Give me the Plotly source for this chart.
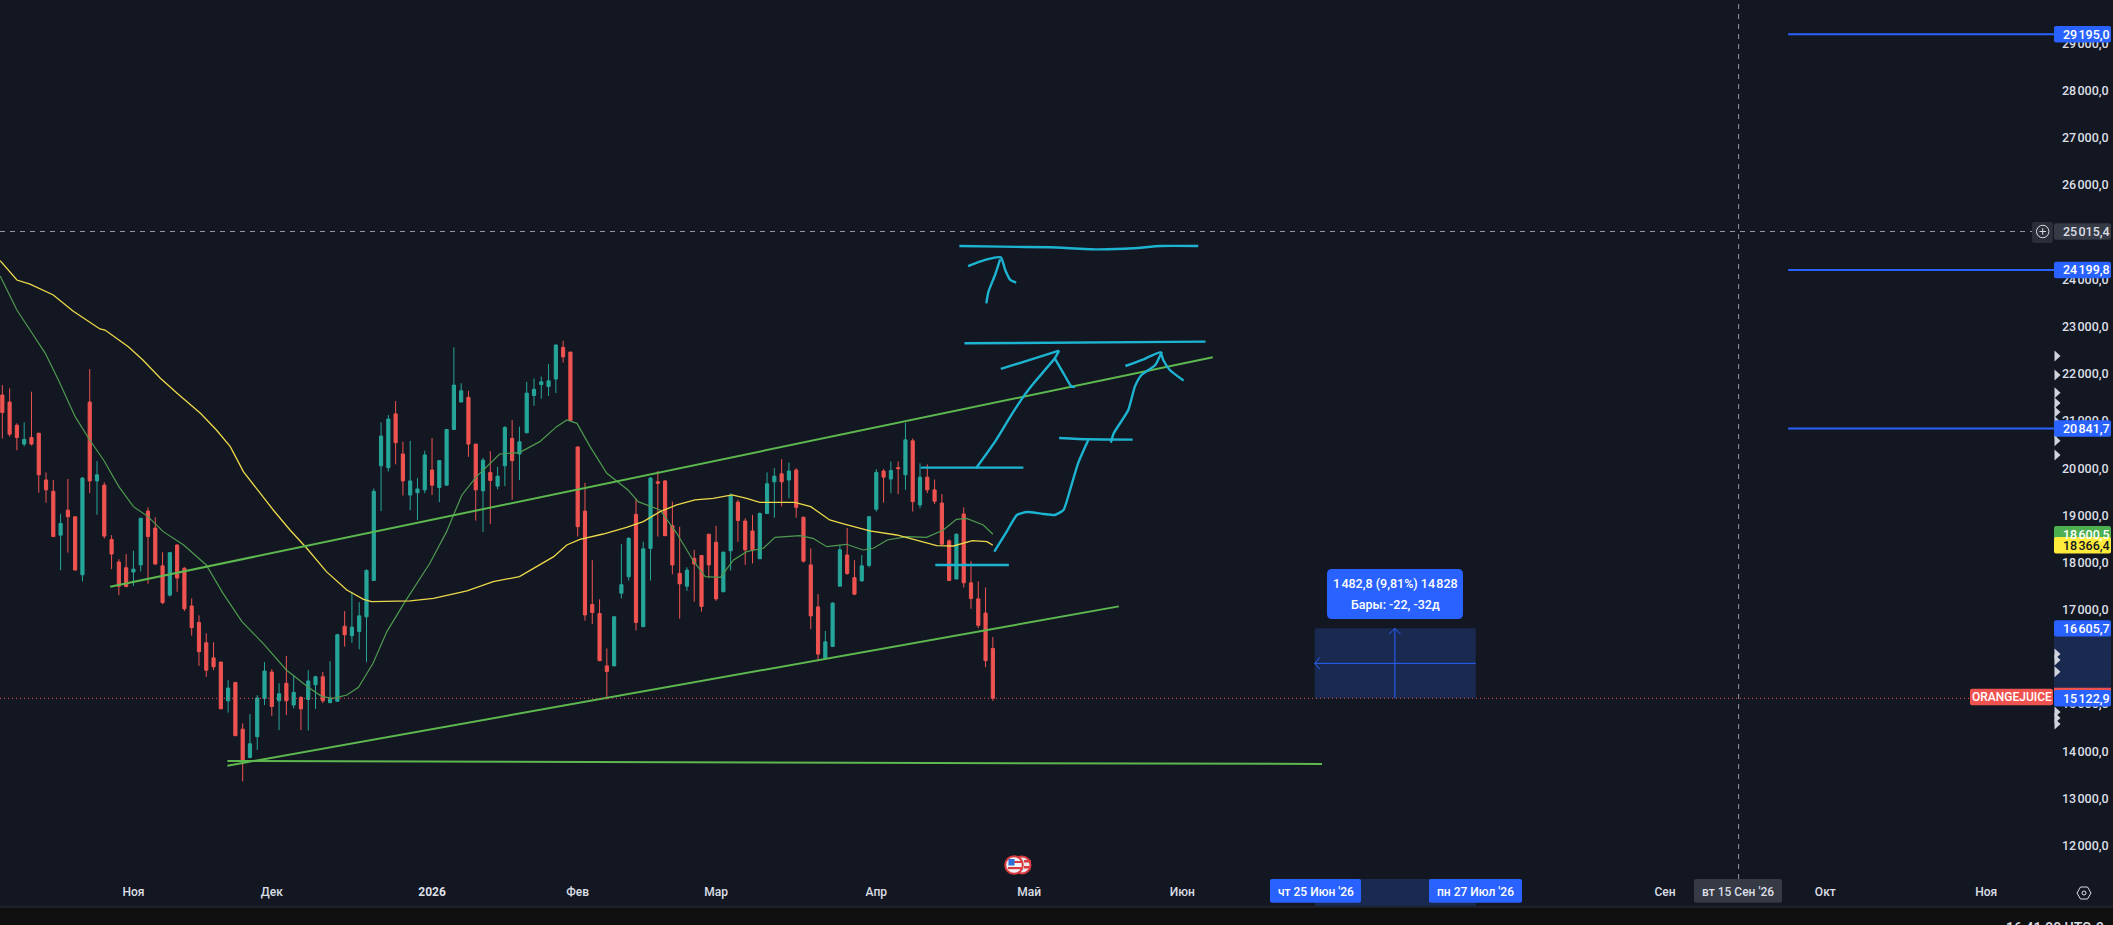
import plotly.graph_objects as go

# ---- candles (price values) ----
opens = [21550,21400,20910,20510,20650,20740,19750,19510,18580,19110,18970,17740,21400,19730,19640,18490,18010,17890,17800,17950,19090,18730,17930,17310,18370,17880,17080,16730,16300,15980,15890,15070,15460,14470,13870,14310,15120,15680,15070,15440,14980,15140,15100,15410,15580,15030,15060,16650,16450,16540,16850,17620,20050,20010,21150,20300,19430,19480,19540,19960,19590,19640,20820,21400,21500,20510,19520,19910,19620,20050,20630,20300,20750,21540,21770,21730,21890,22560,22460,20450,19090,17110,16920,15810,15810,17350,17700,19020,16640,18300,19710,19730,18780,17770,17500,18090,18150,18600,18430,17380,18250,19280,18880,18670,18080,19040,19710,19880,19750,19960,18960,17950,17060,15970,16220,17500,18160,17680,17610,17940,19130,19940,19770,20010,19860,20580,19220,19810,19540,19260,18460,17650,19030,17570,17230,16930,16180]
highs = [21760,21690,20950,20970,21620,20750,19910,19750,19030,19770,18970,19810,22100,20150,19700,18580,18070,18180,18250,18940,19170,18960,18220,18210,18390,17900,17240,16880,16500,16310,15900,15510,15470,14590,14790,15190,15890,15740,15440,16020,15610,15170,15720,15600,15680,15910,16490,16970,17380,17160,17860,19570,20970,21130,21420,20560,20580,19790,20370,20640,20160,20820,22560,21800,21640,20510,20220,20360,20030,20890,21020,20880,21830,21900,21940,22210,22620,22700,22460,20450,19690,18050,17220,16180,16870,18390,18540,19360,18440,19810,19940,19750,19290,18760,17900,18270,18150,18600,18780,18230,19470,19330,18940,19010,19060,19910,20000,20190,20120,20000,18970,18300,17330,16550,17160,18360,18730,18050,18160,18990,19980,19980,20140,20140,20960,20630,20100,20080,19760,19450,18490,18620,19170,18030,17600,17470,16420]
lows = [20630,20670,20380,20460,20480,19480,19270,18550,17840,18210,17840,17600,19470,19010,18510,17860,17310,17480,17500,17810,17550,17950,17120,17280,17380,16970,16450,15810,15580,15720,14900,14820,14330,13360,13850,14030,14980,14750,14450,14770,14910,14450,14440,14900,15020,15030,15050,16220,16300,16160,15890,17620,19090,19930,20080,19420,19110,18900,19470,19430,19280,19640,20820,21400,20240,18890,18650,18820,19550,19620,19330,19750,20740,21320,21470,21530,21590,22240,21010,18550,16770,16700,15920,15100,15810,17240,17620,16560,16640,17620,18550,18560,17750,16810,17400,17170,16960,17670,17190,17380,17830,18440,17950,17980,18080,19040,18950,19190,19360,18950,18000,16590,15910,15970,16220,17500,17740,17310,17600,17900,19080,19270,19470,19450,19540,19080,19150,19470,19240,18370,17620,17650,17470,17020,16610,15780,15070]
closes = [21180,20720,20650,20610,20510,19860,19540,18550,18830,18970,17840,19790,19730,19860,18560,18180,17500,17490,17860,18940,18550,17970,17150,18210,17670,17020,16620,16110,15720,15790,14900,15340,14330,13780,14160,15130,15700,14950,15220,15070,15250,14900,15490,15580,15070,15110,16470,16470,16630,16870,17830,19510,20680,21040,20540,19730,19730,19560,20280,19640,20160,20820,21760,21640,20510,19540,20170,19740,19830,20860,20160,20560,21590,21670,21830,21850,22610,22360,21010,18760,16890,16940,15920,15690,16850,17530,18510,16730,18290,19790,19680,18570,17950,17550,17840,17970,17070,17950,17230,18220,19420,18890,18270,18270,19040,19670,19830,19710,19940,19170,18030,16870,16060,16320,17140,18270,17770,17330,17930,18970,19910,19810,19950,19990,20600,19290,19810,19540,19300,18390,17620,18600,17570,17240,16670,15920,15123]
assert len(opens) == len(highs) == len(lows) == len(closes) == 137
bars = list(range(len(opens)))

# ---- moving averages ----
ma_slow_x = [-0.3,2,3.8,7,9.7,13.4,14.1,17.3,19.3,21.7,24,27.2,29.4,31.3,33.1,35,37.2,39.5,41.8,44.5,47.3,49.6,50.7,56,59.2,63.8,67.4,71,73.8,75.7,77.5,79.3,82.5,85.7,88,90.3,92.6,95.1,97.6,100.2,102.2,104,106.8,108.8,111,113.6,115.5,119.1,122.8,126,128.3,130.6,133.2,135.2,136]
ma_slow_y = [24396,23987,23900,23670,23330,22950,22928,22575,22292,21904,21586,21162,20809,20456,19926,19538,19114,18690,18302,17807,17419,17221,17172,17186,17242,17398,17595,17701,17949,18125,18372,18492,18605,18747,18867,19079,19220,19326,19361,19432,19361,19276,19276,19276,19185,18902,18817,18669,18584,18457,18358,18351,18464,18443,18366]
ma_fast_x = [-0.3,2,3.8,5.9,7.7,10,12,13.9,16,18,20,22.1,24.9,28,30.3,32.9,35.8,39,42,43.9,45.4,47.3,48.9,50.9,52.8,55.3,58.7,61,63.1,65.1,68.3,71,73.8,76.1,77.5,78.9,80.7,83,85.9,87.3,90.3,92.6,94.8,96.5,98.6,100.4,102.2,104.5,106.1,109.5,111.3,113.2,115.9,118.2,119.6,121.5,124.2,126.9,129.2,131,132.4,134.7,136]
ma_fast_y = [24072,23351,22928,22434,21869,21092,20597,20173,19608,19185,18973,18655,18372,17949,17348,16748,16289,15724,15357,15159,15123,15194,15357,15865,16536,17172,17984,18655,19432,19820,20301,20329,20562,20880,21021,20950,20456,19891,19538,19291,19114,18620,18055,17701,17687,18055,18231,18302,18535,18570,18513,18337,18387,18266,18302,18478,18549,18535,18690,18916,18937,18796,18600]

# ---- trend lines (bar index, price) ----
trend_lines = [([14.8,166.2],[17488,22349]), ([30.9,153.3],[13695,17071]), ([30.9,181.2],[13795,13731])]

# ---- hand drawn cyan strokes (bar index, price) ----
strokes = [
 ([131.4,137.0,143.9,150.3,155.3,159.0,164.2],[24708,24694,24680,24637,24659,24708,24708]),
 ([132.6,134.2,135.6,137.1,137.7,138.4,139.2],[24284,24376,24440,24468,24200,23988,23931]),
 ([135.1,135.4,136.3,137.0],[23493,23740,24094,24426]),
 ([132.1,165.2],[22646,22681]),
 ([137.1,145.1],[22102,22490]),
 ([145.1,144.5,141.6,140.2,138.4,136.3,133.7],[22490,22328,21798,21516,21092,20562,19997]),
 ([144.5,145.7,146.8,147.3],[22328,22010,21728,21728]),
 ([126.1,140.2],[20011,20011]),
 ([145.1,149.1,155.2],[20640,20612,20605]),
 ([136.2,137.9,139.3,140.7,143.0,144.5,145.7,146.6,147.7,149.1],[18231,18655,19008,19072,19029,19008,19114,19538,20103,20597]),
 ([152.2,152.6,154.6,155.5,156.4,158.3,159.2],[20541,20739,21233,21728,21975,22187,22469]),
 ([154.2,156.7,159.0,159.4,160.3,162.2],[22165,22307,22455,22293,22081,21855]),
 ([128.1,138.2],[17949,17949]),
]

# ---- levels and labels ----
level_prices = [29195.0, 24199.8, 20841.7]
level_labels = ["29\u200a195,0", "24\u200a199,8", "20\u200a841,7"]
level_start, level_end = 245.2, 281.7
last_price = 15122.9
cross_price, cross_bar = 25015.4, 238.4
ruler_x = [180.2, 202.3]
ruler_y = [15122.9, 16605.7]
ruler_center = [191.2, 15864]
marker_prices = [22377,21974,21599,21381,21191,20985,20746,20582,20279,16062,15935,15687,14833,14706,14579]
ytick_vals = [12000,13000,14000,15000,16000,17000,18000,19000,20000,21000,22000,23000,24000,25000,26000,27000,28000,29000]
ytick_text = ["%d\u200a%03d,0" % (v//1000, v%1000) for v in ytick_vals]
xtick_vals = [18,37,59,79,98,120,141,162,228.3,250.3,272.4]
xtick_text = ["Ноя","Дек","<b>2026</b>","Фев","Мар","Апр","Май","Июн","Сен","Окт","Ноя"]

BG = "#131722"; TXT = "#dcdfe6"; BLUE = "#2962ff"; RED = "#ef5350"; TEAL = "#26a69a"
GREEN_LINE = "#5cb84f"; CYAN = "#1db4d2"; SHADE = "#1a2950"
W, H, AX_X, AX_Y = 2113, 925, 2054, 879
XR = [-0.32, 281.7]; YR = [11294, 29921]
FONT = "Roboto"
WEIGHT = 500

def px(x): return x / AX_X
def py(y): return 1 - y / AX_Y
def price_y(v): return (YR[1] - v) / (YR[1] - YR[0]) * AX_Y

def rrect(x0, y0, x1, y1, r, color, line=None, lw=0):
    p = (f"M {px(x0+r)} {py(y0)} L {px(x1-r)} {py(y0)} Q {px(x1)} {py(y0)} {px(x1)} {py(y0+r)} "
         f"L {px(x1)} {py(y1-r)} Q {px(x1)} {py(y1)} {px(x1-r)} {py(y1)} L {px(x0+r)} {py(y1)} "
         f"Q {px(x0)} {py(y1)} {px(x0)} {py(y1-r)} L {px(x0)} {py(y0+r)} Q {px(x0)} {py(y0)} {px(x0+r)} {py(y0)} Z")
    return dict(type="path", xref="paper", yref="paper", path=p, fillcolor=color,
                line=dict(color=line or color, width=lw), layer="above")

def box(x0, y0, x1, y1, color):
    return dict(type="rect", xref="paper", yref="paper", x0=px(x0), x1=px(x1), y0=py(y0), y1=py(y1),
                fillcolor=color, line=dict(width=0), layer="above")

def circle(cx, cy, r, fill, line, lw):
    return dict(type="circle", xref="paper", yref="paper", x0=px(cx-r), x1=px(cx+r), y0=py(cy-r), y1=py(cy+r),
                fillcolor=fill, line=dict(color=line, width=lw), layer="above")

def triangle(v):
    y = price_y(v)
    return dict(type="path", xref="paper", yref="paper", layer="above", fillcolor="#d1d4dc", line=dict(width=0),
                path=f"M {px(2054.5)} {py(y-5.5)} L {px(2060.5)} {py(y)} L {px(2054.5)} {py(y+5.5)} Z")

fig = go.Figure()
fig.add_trace(go.Candlestick(x=bars, open=opens, high=highs, low=lows, close=closes, whiskerwidth=0,
    increasing=dict(line=dict(color=TEAL, width=1), fillcolor=TEAL),
    decreasing=dict(line=dict(color=RED, width=1), fillcolor=RED), hoverinfo="skip", showlegend=False))
fig.add_trace(go.Scatter(x=ma_fast_x, y=ma_fast_y, mode="lines", line=dict(color="#4f9a50", width=1.2), hoverinfo="skip", showlegend=False))
fig.add_trace(go.Scatter(x=ma_slow_x, y=ma_slow_y, mode="lines", line=dict(color="#ecd94a", width=1.3), hoverinfo="skip", showlegend=False))
for xs, ys in trend_lines:
    fig.add_trace(go.Scatter(x=xs, y=ys, mode="lines", line=dict(color=GREEN_LINE, width=2), hoverinfo="skip", showlegend=False))
for xs, ys in strokes:
    fig.add_trace(go.Scatter(x=xs, y=ys, mode="lines", line=dict(color=CYAN, width=2.4, shape="spline", smoothing=0.5), hoverinfo="skip", showlegend=False))
for p in level_prices:
    fig.add_trace(go.Scatter(x=[level_start, level_end], y=[p, p], mode="lines", line=dict(color=BLUE, width=2), hoverinfo="skip", showlegend=False))
# ruler cross and arrow heads
fig.add_trace(go.Scatter(x=[ruler_x[0], ruler_x[1]], y=[ruler_center[1]]*2, mode="lines", line=dict(color=BLUE, width=1), hoverinfo="skip", showlegend=False))
fig.add_trace(go.Scatter(x=[ruler_center[0]]*2, y=ruler_y, mode="lines", line=dict(color=BLUE, width=1), hoverinfo="skip", showlegend=False))
fig.add_trace(go.Scatter(x=[180.9,180.2,180.9], y=[15990,15864,15738], mode="lines", line=dict(color=BLUE, width=1), hoverinfo="skip", showlegend=False))
fig.add_trace(go.Scatter(x=[190.4,191.2,192.0], y=[16480,16605,16480], mode="lines", line=dict(color=BLUE, width=1), hoverinfo="skip", showlegend=False))

shapes = [
    dict(type="rect", xref="x", yref="y", x0=ruler_x[0], x1=ruler_x[1], y0=ruler_y[0], y1=ruler_y[1],
         fillcolor=SHADE, line=dict(width=0), layer="below"),
    dict(type="line", xref="paper", yref="y", x0=0, x1=1, y0=last_price, y1=last_price,
         line=dict(color=RED, width=1, dash="1px,3px"), layer="above"),
    dict(type="line", xref="paper", yref="y", x0=0, x1=px(2032), y0=cross_price, y1=cross_price,
         line=dict(color="#9598a1", width=1, dash="5px,5px"), layer="above"),
    dict(type="line", xref="x", yref="paper", x0=cross_bar, x1=cross_bar, y0=0, y1=1,
         line=dict(color="#9598a1", width=1, dash="5px,5px"), layer="above"),
    # footer
    box(0, 907, W, 925, "#0f0f0f"), box(0, 906.4, W, 907.6, "#2a2e39"),
    # ruler band on the scales
    box(1315, 879, 1476, 906, SHADE),
    box(AX_X, price_y(ruler_y[1]), 2111, price_y(ruler_y[0]), SHADE),
    # date pills
    rrect(1270, 879, 1361, 902.7, 2, BLUE), rrect(1429, 879, 1522, 902.7, 2, BLUE),
    rrect(1694, 879, 1782, 902.7, 2, "#363a45"),
    # ruler tooltip
    rrect(1327, 569, 1463, 619, 5, BLUE),
    # cross plus button
    rrect(2032, 222, 2053, 243, 2, "#2a2e39"),
    circle(2042.7, price_y(cross_price), 6.2, "rgba(0,0,0,0)", TXT, 1),
    dict(type="line", xref="paper", yref="paper", x0=px(2039.5), x1=px(2046), y0=py(price_y(cross_price)), y1=py(price_y(cross_price)), line=dict(color=TXT, width=1), layer="above"),
    dict(type="line", xref="paper", yref="paper", x0=px(2042.7), x1=px(2042.7), y0=py(price_y(cross_price)-3.3), y1=py(price_y(cross_price)+3.3), line=dict(color=TXT, width=1), layer="above"),
    # settings hexagon
    dict(type="path", xref="paper", yref="paper", layer="above", line=dict(color=TXT, width=1),
         path=f"M {px(2077)} {py(893)} L {px(2080.5)} {py(887)} L {px(2087.5)} {py(887)} L {px(2091)} {py(893)} L {px(2087.5)} {py(899)} L {px(2080.5)} {py(899)} Z"),
    circle(2084, 893, 2, "rgba(0,0,0,0)", TXT, 1),
    # event icon (two coins with a flag)
    circle(1022, 865, 8.5, "#e9e9ee", "#d83a3e", 2),
    box(1024, 860, 1031, 862.5, "#d83a3e"), box(1024, 866, 1031, 868.5, "#d83a3e"),
    circle(1014, 865, 8.8, "#f2f2f5", "#d83a3e", 2),
    box(1011, 861, 1022, 863, "#d83a3e"), box(1008, 867, 1021, 869.2, "#d83a3e"),
    box(1008.5, 859, 1014.5, 865.5, "#2f6fd8"),
]
shapes += [triangle(v) for v in marker_prices]

annos = []
LABEL_SIZE = 12.5

def add_tag(v, text, color, fg="#ffffff"):
    y = price_y(v)
    shapes.append(rrect(AX_X, y-8.2, 2111, y+8.2, 2, color))
    annos.append(dict(xref="paper", yref="y", x=px(2061.5), y=v, text=text, showarrow=False, xanchor="left",
                      font=dict(family=FONT, size=LABEL_SIZE, color=fg, weight=WEIGHT), borderpad=0))

for p, t in zip(level_prices, level_labels):
    add_tag(p, t, BLUE)
add_tag(cross_price, "25\u200a015,4", "#363a45", TXT)
add_tag(18600.5, "18\u200a600,5", "#4caf50")
add_tag(18366.4, "18\u200a366,4", "#ffeb3b", "#131722")
add_tag(16605.7, "16\u200a605,7", BLUE)
# red strip of the last price tag behind the blue ruler tag
shapes.append(box(AX_X, price_y(last_price)-10.5, 2111, price_y(last_price)-7, RED))
add_tag(last_price, "15\u200a122,9", BLUE)
shapes.append(rrect(1970, price_y(last_price)-9.6, 2053, price_y(last_price)+7, 2, RED))

def note(x_px, y_px, text, size=12, color="#ffffff", xanchor="center", yanchor="middle"):
    annos.append(dict(xref="paper", yref="paper", x=px(x_px), y=py(y_px), text=text, showarrow=False,
                      xanchor=xanchor, yanchor=yanchor, font=dict(family=FONT, size=size, color=color, weight=WEIGHT), borderpad=0))

note(2011.5, price_y(last_price)-1.3, "ORANGEJUICE")
note(1315.5, 892, "чт 25 Июн '26")
note(1475.5, 892, "пн 27 Июл '26")
note(1738, 892, "вт 15 Сен '26", color=TXT)
note(1395, 583.5, "1\u200a482,8 (9,81%) 14\u200a828", size=12.5)
note(1395, 604, "Бары: -22, -32д", size=12.5)
note(2105, 918.5, "16:41:20 UTC-3", size=14, color=TXT, xanchor="right", yanchor="top")

fig.update_layout(
    width=W, height=H, margin=dict(l=0, r=W-AX_X, t=0, b=H-AX_Y), paper_bgcolor=BG, plot_bgcolor=BG,
    showlegend=False, hovermode=False, boxgap=0.38, dragmode=False,
    xaxis=dict(range=XR, rangeslider=dict(visible=False), showgrid=False, zeroline=False, showline=False,
               tickmode="array", tickvals=xtick_vals, ticktext=xtick_text, ticks="", ticklabelstandoff=4,
               tickfont=dict(family=FONT, size=12, color=TXT, weight=WEIGHT), tickangle=0),
    yaxis=dict(range=YR, side="right", showgrid=False, zeroline=False, showline=False,
               tickmode="array", tickvals=ytick_vals, ticktext=ytick_text, ticks="", ticklabelstandoff=7,
               tickfont=dict(family=FONT, size=LABEL_SIZE, color=TXT, weight=WEIGHT)),
    shapes=shapes, annotations=annos, font=dict(family=FONT),
)
fig.write_html("out.html", config=dict(displayModeBar=False, staticPlot=True),
               post_script="document.body.style.margin='0';document.body.style.overflow='hidden';document.body.style.background='#131722';")
